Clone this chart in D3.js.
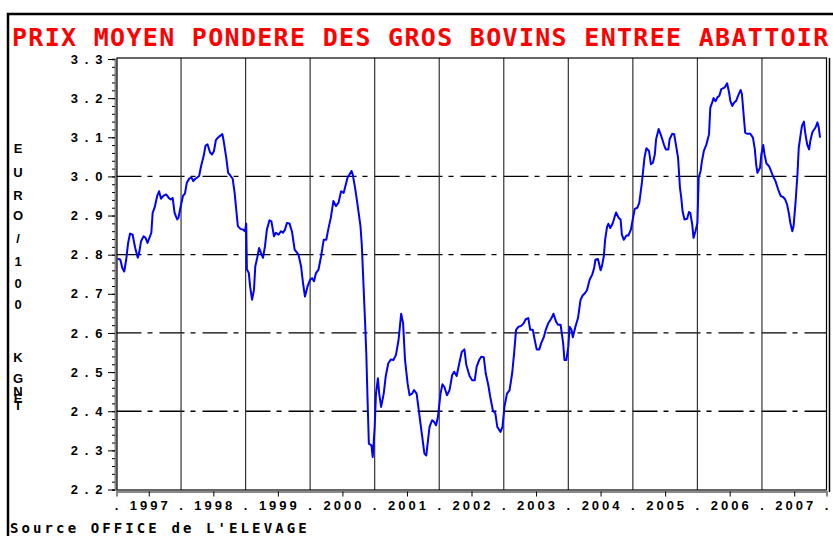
<!DOCTYPE html>
<html lang="fr">
<head>
<meta charset="UTF-8">
<title>Prix moyen pondere des gros bovins entree abattoir</title>
<script src="https://cdn.jsdelivr.net/npm/d3@7"></script>
<style>
    body { margin: 0; background: #fff; }
    svg { display: block; }
    .title { font-family: "DejaVu Sans Mono", monospace; font-weight: bold; font-size: 25px; letter-spacing: 1.3px; fill: #ff0000; }
    .source { font-family: "DejaVu Sans Mono", monospace; font-weight: bold; font-size: 14px; letter-spacing: 3.1px; fill: #000; }
    .lbl { font-family: "Liberation Sans", Arial, sans-serif; font-weight: bold; font-size: 13px; fill: #000; }
    .grid-h { stroke: #000; stroke-width: 1.3px; stroke-dasharray: 25 6 5 7; }
    .grid-v { stroke: #333; stroke-width: 1.2px; }
</style>
</head>
<body>
<div id="chart"></div>
<script>
    // weekly-ish samples: decimal year / euro per 100 kg net
    const weeks = [
        1997.02, 1997.06, 1997.09, 1997.12, 1997.15, 1997.18, 1997.21, 1997.25, 1997.29, 1997.33,
        1997.35, 1997.38, 1997.42, 1997.45, 1997.48, 1997.51, 1997.54, 1997.56, 1997.59, 1997.63,
        1997.66, 1997.69, 1997.73, 1997.77, 1997.81, 1997.84, 1997.87, 1997.90, 1997.94, 1997.96,
        1997.99, 1998.03, 1998.06, 1998.09, 1998.13, 1998.16, 1998.19, 1998.22, 1998.25, 1998.28,
        1998.31, 1998.35, 1998.38, 1998.41, 1998.45, 1998.48, 1998.51, 1998.54, 1998.57, 1998.60,
        1998.64, 1998.66, 1998.70, 1998.73, 1998.76, 1998.80, 1998.83, 1998.86, 1998.88, 1998.92,
        1998.96, 1998.99, 1999.01, 1999.02, 1999.05, 1999.07, 1999.10, 1999.13, 1999.15, 1999.18,
        1999.21, 1999.24, 1999.27, 1999.30, 1999.33, 1999.37, 1999.40, 1999.44, 1999.47, 1999.51,
        1999.55, 1999.58, 1999.61, 1999.64, 1999.68, 1999.72, 1999.76, 1999.82, 1999.86, 1999.89,
        1999.92, 1999.96, 2000.00, 2000.03, 2000.06, 2000.09, 2000.13, 2000.17, 2000.21, 2000.25,
        2000.28, 2000.32, 2000.36, 2000.40, 2000.44, 2000.48, 2000.52, 2000.54, 2000.58, 2000.61,
        2000.64, 2000.66, 2000.70, 2000.73, 2000.78, 2000.80, 2000.83, 2000.85, 2000.87, 2000.89,
        2000.91, 2000.95, 2000.97, 2001.00, 2001.02, 2001.05, 2001.07, 2001.10, 2001.14, 2001.17,
        2001.21, 2001.25, 2001.29, 2001.33, 2001.37, 2001.41, 2001.44, 2001.47, 2001.51, 2001.54,
        2001.58, 2001.61, 2001.65, 2001.69, 2001.73, 2001.77, 2001.80, 2001.82, 2001.85, 2001.89,
        2001.92, 2001.95, 2001.98, 2002.02, 2002.05, 2002.08, 2002.12, 2002.16, 2002.20, 2002.23,
        2002.27, 2002.31, 2002.35, 2002.39, 2002.42, 2002.47, 2002.51, 2002.55, 2002.58, 2002.62,
        2002.65, 2002.69, 2002.72, 2002.76, 2002.79, 2002.83, 2002.87, 2002.90, 2002.95, 2002.98,
        2003.01, 2003.05, 2003.09, 2003.13, 2003.16, 2003.19, 2003.23, 2003.27, 2003.31, 2003.34,
        2003.38, 2003.41, 2003.45, 2003.48, 2003.51, 2003.55, 2003.58, 2003.62, 2003.65, 2003.69,
        2003.74, 2003.77, 2003.81, 2003.84, 2003.88, 2003.92, 2003.94, 2003.97, 2004.00, 2004.02,
        2004.05, 2004.07, 2004.11, 2004.15, 2004.19, 2004.22, 2004.26, 2004.29, 2004.33, 2004.37,
        2004.40, 2004.42, 2004.46, 2004.50, 2004.52, 2004.55, 2004.57, 2004.60, 2004.62, 2004.65,
        2004.69, 2004.72, 2004.74, 2004.78, 2004.81, 2004.83, 2004.86, 2004.90, 2004.93, 2004.97,
        2005.00, 2005.03, 2005.07, 2005.10, 2005.14, 2005.18, 2005.21, 2005.25, 2005.28, 2005.31,
        2005.34, 2005.36, 2005.40, 2005.44, 2005.48, 2005.51, 2005.55, 2005.57, 2005.61, 2005.64,
        2005.67, 2005.70, 2005.73, 2005.75, 2005.77, 2005.80, 2005.84, 2005.87, 2005.89, 2005.92,
        2005.94, 2005.97, 2006.00, 2006.02, 2006.05, 2006.07, 2006.10, 2006.14, 2006.18, 2006.20,
        2006.23, 2006.25, 2006.28, 2006.31, 2006.34, 2006.37, 2006.41, 2006.43, 2006.46, 2006.49,
        2006.51, 2006.54, 2006.57, 2006.60, 2006.63, 2006.67, 2006.69, 2006.72, 2006.74, 2006.77,
        2006.82, 2006.86, 2006.89, 2006.91, 2006.93, 2006.97, 2006.99, 2007.02, 2007.04, 2007.07,
        2007.11, 2007.14, 2007.17, 2007.21, 2007.25, 2007.29, 2007.33, 2007.36, 2007.39, 2007.42,
        2007.44, 2007.47, 2007.49, 2007.52, 2007.55, 2007.57, 2007.60, 2007.62, 2007.65, 2007.67,
        2007.70, 2007.73, 2007.75, 2007.78, 2007.80, 2007.83, 2007.86, 2007.88, 2007.90
    ];
    const prices = [
        2.790, 2.787, 2.766, 2.757, 2.787, 2.830, 2.854, 2.851, 2.817, 2.792,
        2.804, 2.834, 2.847, 2.843, 2.830, 2.843, 2.856, 2.907, 2.920, 2.950,
        2.962, 2.943, 2.951, 2.954, 2.945, 2.941, 2.945, 2.907, 2.890, 2.894,
        2.920, 2.950, 2.956, 2.984, 2.995, 2.997, 2.988, 2.994, 2.997, 3.001,
        3.026, 3.052, 3.079, 3.082, 3.061, 3.056, 3.065, 3.093, 3.099, 3.103,
        3.108, 3.091, 3.048, 3.009, 3.003, 2.994, 2.958, 2.907, 2.873, 2.866,
        2.864, 2.860, 2.879, 2.762, 2.753, 2.719, 2.685, 2.710, 2.770, 2.792,
        2.817, 2.804, 2.792, 2.821, 2.864, 2.888, 2.885, 2.847, 2.856, 2.851,
        2.860, 2.856, 2.864, 2.881, 2.880, 2.858, 2.813, 2.800, 2.770, 2.727,
        2.693, 2.719, 2.736, 2.740, 2.732, 2.753, 2.762, 2.796, 2.838, 2.838,
        2.864, 2.894, 2.937, 2.924, 2.933, 2.962, 2.958, 2.971, 2.997, 3.005,
        3.014, 3.005, 2.967, 2.933, 2.873, 2.826, 2.710, 2.633, 2.548, 2.428,
        2.317, 2.313, 2.283, 2.360, 2.445, 2.484, 2.445, 2.411, 2.445, 2.488,
        2.522, 2.532, 2.531, 2.544, 2.582, 2.649, 2.625, 2.531, 2.471, 2.441,
        2.445, 2.454, 2.445, 2.394, 2.343, 2.292, 2.287, 2.317, 2.360, 2.377,
        2.373, 2.364, 2.385, 2.445, 2.469, 2.462, 2.441, 2.454, 2.492, 2.501,
        2.490, 2.522, 2.552, 2.558, 2.518, 2.490, 2.479, 2.479, 2.514, 2.531,
        2.539, 2.538, 2.497, 2.467, 2.437, 2.403, 2.394, 2.360, 2.347, 2.360,
        2.411, 2.445, 2.454, 2.497, 2.548, 2.608, 2.616, 2.618, 2.625, 2.635,
        2.638, 2.608, 2.608, 2.582, 2.558, 2.558, 2.574, 2.589, 2.608, 2.625,
        2.638, 2.649, 2.629, 2.621, 2.621, 2.574, 2.531, 2.531, 2.565, 2.616,
        2.608, 2.589, 2.616, 2.638, 2.685, 2.695, 2.702, 2.710, 2.736, 2.749,
        2.766, 2.787, 2.789, 2.760, 2.770, 2.796, 2.838, 2.871, 2.879, 2.868,
        2.881, 2.898, 2.908, 2.894, 2.890, 2.851, 2.838, 2.849, 2.849, 2.864,
        2.892, 2.917, 2.920, 2.933, 2.984, 3.048, 3.072, 3.065, 3.031, 3.035,
        3.056, 3.095, 3.121, 3.103, 3.082, 3.069, 3.069, 3.095, 3.109, 3.108,
        3.078, 3.048, 2.971, 2.945, 2.911, 2.890, 2.892, 2.909, 2.907, 2.877,
        2.843, 2.860, 2.881, 2.997, 3.014, 3.039, 3.065, 3.082, 3.108, 3.176,
        3.189, 3.200, 3.192, 3.202, 3.206, 3.223, 3.226, 3.229, 3.238, 3.215,
        3.193, 3.180, 3.189, 3.193, 3.206, 3.221, 3.210, 3.150, 3.112, 3.109,
        3.109, 3.099, 3.069, 3.031, 3.009, 3.022, 3.056, 3.080, 3.056, 3.033,
        3.026, 3.014, 3.001, 2.988, 2.967, 2.950, 2.947, 2.941, 2.928, 2.903,
        2.881, 2.860, 2.873, 2.933, 3.005, 3.073, 3.108, 3.129, 3.140, 3.112,
        3.082, 3.069, 3.091, 3.112, 3.118, 3.125, 3.138, 3.125, 3.099
    ];
    const years = [1997, 1998, 1999, 2000, 2001, 2002, 2003, 2004, 2005, 2006, 2007];
    const yTicks = [2.2, 2.3, 2.4, 2.5, 2.6, 2.7, 2.8, 2.9, 3.0, 3.1, 3.2, 3.3];
    const yGrid = [2.4, 2.6, 2.8, 3.0];
    const titleText = "PRIX MOYEN PONDERE DES GROS BOVINS ENTREE ABATTOIR";
    const sourceText = "Source OFFICE de L'ELEVAGE";
    const yTitle = ["E", "U", "R", "O", "/", "1", "0", "0", "", "K", "G", "N", "E", "T"];

    const width = 833;
    const height = 536;

    const x = d3.scaleLinear().domain([1997, 2008]).range([116.5, 826.5]);
    const y = d3.scaleLinear().domain([2.2, 3.3]).range([489.5, 59]);

    const svg = d3.select("#chart").append("svg")
        .attr("width", width)
        .attr("height", height);

    // outer frame
    svg.append("rect")
        .attr("x", 8).attr("y", 14)
        .attr("width", 900).attr("height", 600)
        .attr("fill", "none").attr("stroke", "#000").attr("stroke-width", 2.5);

    svg.append("text")
        .attr("class", "title")
        .attr("x", 12).attr("y", 46)
        .text(titleText);

    const plotTop = y(3.3) - 1;
    const plotBottom = y(2.2) + 0.5;

    // grid
    svg.selectAll("line.grid-h")
        .data(yGrid)
        .enter().append("line")
        .attr("class", "grid-h")
        .attr("x1", x(1997)).attr("x2", x(2008))
        .attr("y1", d => y(d)).attr("y2", d => y(d));

    svg.selectAll("line.grid-v")
        .data(years.slice(1))
        .enter().append("line")
        .attr("class", "grid-v")
        .attr("x1", d => x(d)).attr("x2", d => x(d))
        .attr("y1", plotTop).attr("y2", plotBottom);

    // y axis: minor then major ticks
    const minor = d3.range(2.2, 3.3001, 0.02);
    svg.append("g")
        .attr("transform", "translate(" + (x(1997) - 1.5) + ",0)")
        .call(d3.axisLeft(y).tickValues(minor).tickSize(3).tickFormat(""))
        .call(g => g.select(".domain").attr("stroke", "#888").attr("stroke-width", 2));

    const yAxis = svg.append("g")
        .attr("transform", "translate(" + (x(1997) - 1.5) + ",0)")
        .call(d3.axisLeft(y).tickValues(yTicks).tickSize(7).tickPadding(4)
            .tickFormat(d => d.toFixed(1).split("").join(" ")));
    yAxis.select(".domain").remove();
    yAxis.selectAll("text")
        .attr("class", "lbl")
        .attr("fill", "#000")
        .style("letter-spacing", "1.6px");

    // x axis: ticks at mid-year
    const xAxis = svg.append("g")
        .attr("transform", "translate(0," + (plotBottom + 1.5) + ")")
        .call(d3.axisBottom(x).tickValues(years.map(d => d + 0.5)).tickSize(5).tickFormat(""));
    xAxis.select(".domain").attr("stroke", "#888").attr("stroke-width", 2);

    svg.selectAll("text.year")
        .data(years)
        .enter().append("text")
        .attr("class", "lbl year")
        .attr("x", d => x(d + 0.5) + 1.5)
        .attr("y", 510)
        .attr("text-anchor", "middle")
        .style("letter-spacing", "3px")
        .text(d => d);

    svg.selectAll("text.dot")
        .data(years.concat([2008]))
        .enter().append("text")
        .attr("class", "lbl dot")
        .attr("x", d => x(d))
        .attr("y", 510)
        .attr("text-anchor", "middle")
        .text(".");

    // plot frame
    svg.append("rect")
        .attr("x", x(1997) + 0.5).attr("y", plotTop)
        .attr("width", x(2008) - x(1997) - 0.5).attr("height", plotBottom - plotTop)
        .attr("fill", "none").attr("stroke", "#000").attr("stroke-width", 1.2);
    svg.append("line")
        .attr("x1", x(2008) + 3).attr("x2", x(2008) + 3)
        .attr("y1", plotTop).attr("y2", plotBottom + 2)
        .attr("stroke", "#000").attr("stroke-width", 1.5);

    // series
    const line = d3.line()
        .x((d, i) => x(weeks[i]))
        .y(d => y(d));

    svg.append("path")
        .datum(prices)
        .attr("fill", "none")
        .attr("stroke", "#0000ff")
        .attr("stroke-width", 2)
        .attr("stroke-linejoin", "round")
        .attr("d", line);

    // vertical axis title, one letter per row (N, E, T squeezed together as in the source)
    const letterY = [148, 172, 195, 215, 238, 261, 283, 304, 0, 357, 378, 391, 398, 405];
    svg.selectAll("text.ytitle")
        .data(yTitle)
        .enter().append("text")
        .attr("class", "lbl ytitle")
        .attr("x", 18)
        .attr("y", (d, i) => letterY[i] + 5)
        .attr("text-anchor", "middle")
        .text(d => d);

    svg.append("text")
        .attr("class", "source")
        .attr("x", 10).attr("y", 533)
        .text(sourceText);
</script>
</body>
</html>
